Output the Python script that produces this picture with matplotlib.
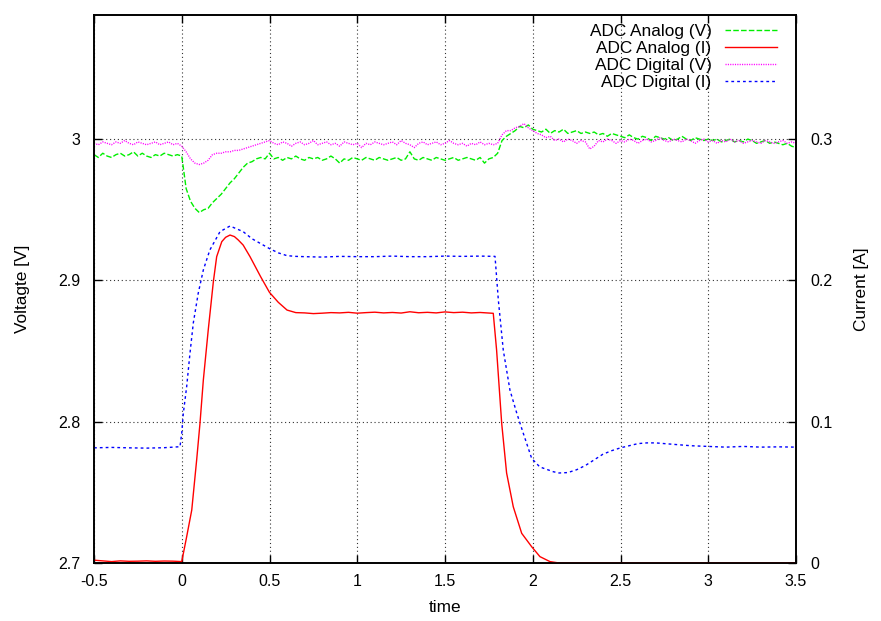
import numpy as np
import matplotlib
matplotlib.use("Agg")
import matplotlib.pyplot as plt

plt.rcParams['font.family'] = ['Liberation Sans', 'DejaVu Sans']

# ---- data ----
t_volt = np.round(np.arange(-0.5, 3.5001, 0.025), 3)

analog_v = [
    2.989, 2.987, 2.990, 2.988, 2.987, 2.989, 2.990, 2.988, 2.989, 2.991, 2.988,
    2.990, 2.988, 2.987, 2.989, 2.988, 2.990, 2.989, 2.988, 2.989, 2.988,
    2.965, 2.956, 2.951, 2.948, 2.950, 2.951, 2.955, 2.958, 2.961, 2.965,
    2.969, 2.972, 2.976, 2.980, 2.983, 2.984, 2.986, 2.987, 2.986, 2.990,
    2.986, 2.987, 2.985, 2.987, 2.986, 2.988, 2.986, 2.985, 2.987, 2.986,
    2.987, 2.985, 2.986, 2.988, 2.986, 2.983, 2.986, 2.985, 2.987, 2.986,
    2.985, 2.987, 2.986, 2.985, 2.987, 2.986, 2.985, 2.986, 2.987, 2.985,
    2.986, 2.991,
    2.986, 2.985, 2.987, 2.986, 2.985, 2.987, 2.986, 2.985, 2.986, 2.987,
    2.985, 2.986, 2.987, 2.986, 2.985, 2.987, 2.983, 2.986, 2.987,
    2.990, 2.999, 3.002, 3.004, 3.006, 3.009, 3.008, 3.010, 3.007,
    3.006, 3.005, 3.007, 3.004, 3.006, 3.005, 3.007, 3.004, 3.005, 3.006,
    3.004, 3.005, 3.004, 3.005, 3.003, 3.004, 3.002, 3.004, 3.003, 3.002,
    3.001, 3.003, 3.001, 3.000, 3.002, 3.001, 2.999, 3.002, 3.001, 3.000,
    3.001, 2.999, 3.000, 3.002, 3.000, 2.999, 3.001, 3.000, 2.999, 3.000,
    2.999, 3.000, 2.998, 2.999, 3.000, 2.998, 2.999, 2.998, 3.000, 2.999,
    2.997, 2.998, 2.999, 2.997, 2.998, 2.997, 2.996, 2.997, 2.995, 2.994,
]

digital_v = [
    2.997, 2.996, 2.998, 2.997, 2.996, 2.998, 2.997, 2.999, 2.997, 2.996,
    2.998, 2.997, 2.996, 2.997, 2.998, 2.996, 2.997, 2.998, 2.996, 2.997, 2.995,
    2.991, 2.986, 2.983, 2.982, 2.983, 2.985, 2.989, 2.990, 2.990, 2.991,
    2.991, 2.992, 2.992, 2.993, 2.994, 2.995, 2.996, 2.997, 2.998, 2.999,
    2.997, 2.996, 2.998, 2.997, 2.995, 2.997, 2.998, 2.996, 2.997, 2.999,
    2.996, 2.997, 2.998, 2.996, 2.997, 2.995, 2.998, 2.997, 2.996, 2.997,
    2.994, 2.997, 2.996, 2.998, 2.997, 2.996, 2.997, 2.998, 2.996, 2.999,
    2.997, 2.996, 2.994, 2.997, 2.998, 2.996, 2.997, 2.998, 2.996, 2.997,
    2.999, 2.997, 2.996, 2.997, 2.995, 2.997, 2.996, 2.998, 2.996, 2.997,
    2.996,
    2.997, 3.003, 3.006, 3.006, 3.008, 3.009, 3.011, 3.008, 3.006,
    3.004, 3.003, 3.001, 3.002, 2.999, 3.000, 2.998, 3.000, 2.999, 2.997,
    2.999, 2.998, 2.993, 2.995, 2.999, 2.998, 3.000, 2.999, 2.997, 2.999,
    2.998, 3.000, 2.999, 2.997, 2.999, 3.000, 2.998, 2.999, 3.001, 2.999,
    2.998, 3.000, 2.999, 2.998, 3.000, 2.999, 2.997, 2.999, 3.000, 2.998,
    2.999, 2.997, 2.999, 2.998, 3.000, 2.998, 2.999, 2.997, 2.998, 2.999,
    2.998, 2.997, 2.999, 2.998, 2.997, 2.998, 2.999, 2.997, 2.998, 2.997,
]

t_analog_i = [-0.5, -0.45, -0.4, -0.35, -0.3, -0.25, -0.2, -0.15, -0.1, -0.05,
              0.0, 0.028, 0.057, 0.085, 0.104, 0.123, 0.151, 0.18, 0.199, 0.228,
              0.25, 0.275, 0.3, 0.322, 0.35, 0.389, 0.45, 0.5, 0.55, 0.6, 0.65,
              0.7, 0.75, 0.8, 0.85, 0.9, 0.95, 1.0, 1.05, 1.1, 1.15, 1.2, 1.25,
              1.3, 1.35, 1.4, 1.45, 1.5, 1.55, 1.6, 1.65, 1.7, 1.775,
              1.794, 1.823, 1.851, 1.889, 1.937, 1.994, 2.041, 2.098, 2.15,
              2.5, 3.0, 3.5]
analog_i = [0.002, 0.0015, 0.001, 0.0015, 0.0012, 0.0013, 0.0015, 0.0012, 0.0014, 0.0013,
            0.001, 0.0186, 0.0375, 0.073, 0.099, 0.1295, 0.165, 0.199, 0.2168, 0.2274,
            0.2305, 0.2321, 0.231, 0.2286, 0.225, 0.2168, 0.2025, 0.1915, 0.1845, 0.179, 0.1772,
            0.1770, 0.1765, 0.1768, 0.1772, 0.1770, 0.1774, 0.1768, 0.1772, 0.1775, 0.1770, 0.1773, 0.1769,
            0.1778, 0.1771, 0.1774, 0.1770, 0.1777, 0.1772, 0.1775, 0.1770, 0.1773, 0.1767,
            0.1507, 0.0989, 0.0637, 0.0398, 0.021, 0.0115, 0.0045, 0.001, 0.0,
            0.0, 0.0, 0.0]

t_digital_i = [-0.5, -0.4, -0.3, -0.2, -0.1, -0.01, 0.0, 0.009, 0.028, 0.047,
               0.066, 0.094, 0.123, 0.16, 0.218, 0.275, 0.35, 0.4, 0.45, 0.5,
               0.55, 0.6, 0.65, 0.7, 0.8, 0.9, 1.0, 1.1, 1.2, 1.3, 1.4, 1.5,
               1.6, 1.7, 1.785, 1.804, 1.832, 1.87, 1.909, 1.946, 1.994, 2.04,
               2.117, 2.15, 2.2, 2.25, 2.3, 2.35, 2.4, 2.45, 2.5, 2.55, 2.6,
               2.65, 2.7, 2.75, 2.8, 2.9, 3.0, 3.1, 3.2, 3.3, 3.4, 3.5]
digital_i = [0.0815, 0.0818, 0.0815, 0.0813, 0.0816, 0.0823, 0.092, 0.106, 0.1248, 0.1486,
             0.170, 0.191, 0.2074, 0.2215, 0.2345, 0.2385, 0.2345, 0.2295, 0.226, 0.2225,
             0.2195, 0.2175, 0.217, 0.2168, 0.2165, 0.217, 0.2168, 0.2168, 0.2172, 0.2168, 0.2168, 0.2172,
             0.217, 0.2172, 0.217, 0.186, 0.1507, 0.1224, 0.106, 0.0918, 0.074, 0.068,
             0.0646, 0.0637, 0.064, 0.066, 0.069, 0.073, 0.077, 0.0795, 0.0815, 0.083, 0.0845,
             0.085, 0.085, 0.0845, 0.084, 0.083, 0.0825, 0.082, 0.0825, 0.082, 0.0822, 0.082]

labels = ["ADC Analog (V)", "ADC Analog (I)", "ADC Digital (V)", "ADC Digital (I)"]
x_ticks = [-0.5, 0, 0.5, 1, 1.5, 2, 2.5, 3, 3.5]
v_ticks = [2.7, 2.8, 2.9, 3.0]
i_ticks = [0, 0.1, 0.2, 0.3]

# ---- figure ----
fig = plt.figure(figsize=(8.81, 6.21), dpi=100)
ax = fig.add_axes([94/881, 1-563/621, (796-94)/881, (563-15)/621])
ax2 = ax.twinx()

fs_tick = 11.5
fs_lab = 12.4
ax.set_xlim(-0.5, 3.5)
ax.set_ylim(2.7, 2.7 + 548/1413)
ax2.set_ylim(0, 548/1413)

l1, = ax.plot(t_volt, analog_v, color='#00ee00', lw=1.0, ls=(0, (4, 1.6)))
l3, = ax.plot(t_volt, digital_v, color='#ff00ff', lw=1.0, ls=(0, (0.8, 0.9)))
l2, = ax2.plot(t_analog_i, analog_i, color='#ff0000', lw=1.0)
l4, = ax2.plot(t_digital_i, digital_i, color='#0000ff', lw=1.0, ls=(0, (2, 2.2)))

ax.set_xticks(x_ticks)
ax.set_xticklabels([f"{v:g}" for v in x_ticks])
ax.set_yticks(v_ticks)
ax.set_yticklabels([f"{v:g}" for v in v_ticks])
ax2.set_yticks(i_ticks)
ax2.set_yticklabels([f"{v:g}" for v in i_ticks])

ax.grid(True, color='#333333', ls=(0, (1, 2.5)), lw=0.8)
ax.tick_params(direction='in', length=6, width=1, top=True, labelsize=fs_tick, pad=8)
ax.tick_params(axis='y', pad=10)
ax2.tick_params(direction='in', length=6, width=1, labelsize=fs_tick, pad=10)
for a in (ax, ax2):
    for s in a.spines.values():
        s.set_linewidth(1.2)

ax.set_xlabel("time", fontsize=fs_lab, labelpad=8)
ax.set_ylabel("Voltagte [V]", fontsize=fs_lab, labelpad=20)
ax2.set_ylabel("Current [A]", fontsize=fs_lab, labelpad=16, rotation=90)

leg = ax2.legend([l1, l2, l3, l4], labels, loc='upper right', frameon=False,
                 markerfirst=False, fontsize=fs_lab, handlelength=3.0,
                 labelspacing=0.12, borderaxespad=0, borderpad=0,
                 handletextpad=0.8,
                 bbox_to_anchor=(1 - 19/702, 1 - 9/548))

fig.savefig("out.png", dpi=100)
